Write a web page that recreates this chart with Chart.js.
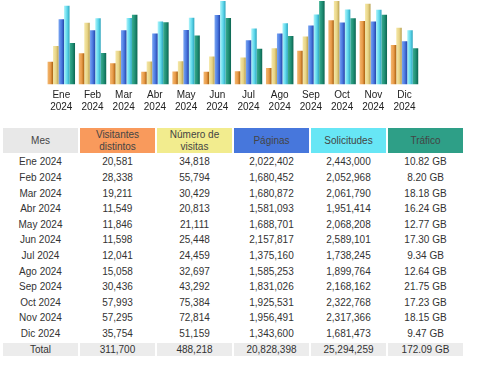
<!DOCTYPE html>
<html>
<head>
<meta charset="utf-8">
<script src="https://cdn.jsdelivr.net/npm/chart.js@4.4.1/dist/chart.umd.min.js"></script>
<style>
  html, body { margin:0; padding:0; background:#fff; width:500px; height:367px; overflow:hidden; }
  body { position:relative; font-family:"Liberation Sans", Arial, sans-serif; }
  #wrap { position:absolute; left:0; top:0; width:500px; height:118px; }
  table { position:absolute; left:1px; top:126px; border-collapse:separate; border-spacing:2px; font-size:10px; color:#333; }
  th, td { width:75px; padding:0; text-align:center; font-weight:normal; }
  th { height:25.4px; line-height:11.6px; color:#444; }
  td { height:13.6px; line-height:13.6px; }
  tr.total td { background:#ececec; }
</style>
</head>
<body>
<div id="wrap"><canvas id="c"></canvas></div>
<table id="t"></table>
<script>
const months = ["Ene","Feb","Mar","Abr","May","Jun","Jul","Ago","Sep","Oct","Nov","Dic"];
const year = "2024";
const visitors = [20581,28338,19211,11549,11846,11598,12041,15058,30436,57993,57295,35754];
const visits = [34818,55794,30429,20813,21111,25448,24459,32697,43292,75384,72814,51159];
const pages = [2022402,1680452,1680872,1581093,1688701,2157817,1375160,1585253,1831026,1925531,1956491,1343600];
const hits = [2443000,2052968,2061790,1951414,2068208,2589101,1738245,1899764,2168162,2322768,2317366,1681473];
const bandwidthGB = [10.82,8.20,18.18,16.24,12.77,17.30,9.34,12.64,21.75,17.23,18.15,9.47];
const headers = ["Mes","Visitantes<br>distintos","Número de<br>visitas","Páginas","Solicitudes","Tráfico"];
const totals = ["Total","311,700","488,218","20,828,398","25,294,259","172.09 GB"];

const headerBg = ["#e8e8e8","#f99a5c","#f2ec8e","#4777dc","#67e6f5","#2e9f87"];
const gradStops = [
  ["#f3b870","#e89a48","#a8600e"],
  ["#f5e8a8","#e8d486","#b8a050"],
  ["#7aa6f2","#4a78e0","#2444a8"],
  ["#aef4fa","#5ed8ec","#2ea4bc"],
  ["#3aae90","#1f8e74","#0c6450"]
];

const fmt = n => n.toLocaleString("en-US");

// table
const t = document.getElementById("t");
let html = "<tr>" + headers.map((h,i)=>`<th style="background:${headerBg[i]}">${h}</th>`).join("") + "</tr>";
months.forEach((m,i)=>{
  html += `<tr><td>${m} ${year}</td><td>${fmt(visitors[i])}</td><td>${fmt(visits[i])}</td><td>${fmt(pages[i])}</td><td>${fmt(hits[i])}</td><td>${bandwidthGB[i].toFixed(2)} GB</td></tr>`;
});
html += `<tr class="total">` + totals.map(v=>`<td>${v}</td>`).join("") + "</tr>";
t.innerHTML = html;

const gradientPlugin = {
  id: "grad",
  beforeDatasetsDraw(chart) {
    const ctx = chart.ctx;
    chart.data.datasets.forEach((ds, di) => {
      const meta = chart.getDatasetMeta(di);
      const stops = gradStops[di];
      meta.data.forEach(el => {
        const p = el.getProps(["x","width"], true);
        const g = ctx.createLinearGradient(p.x - p.width/2, 0, p.x + p.width/2, 0);
        g.addColorStop(0, stops[0]);
        g.addColorStop(0.55, stops[1]);
        g.addColorStop(1, stops[2]);
        el.options = Object.assign({}, el.options, { backgroundColor: g });
      });
    });
  }
};

const visMax = Math.max(...visitors, ...visits);
const hitMax = Math.max(...pages, ...hits);
const bwMax = Math.max(...bandwidthGB);

new Chart(document.getElementById("c"), {
  type: "bar",
  data: {
    labels: months.map(m => [m, year]),
    datasets: [
      { data: visitors, yAxisID: "yv", backgroundColor: gradStops[0][1] },
      { data: visits, yAxisID: "yv", backgroundColor: gradStops[1][1] },
      { data: pages, yAxisID: "yh", backgroundColor: gradStops[2][1] },
      { data: hits, yAxisID: "yh", backgroundColor: gradStops[3][1] },
      { data: bandwidthGB, yAxisID: "yb", backgroundColor: gradStops[4][1] }
    ]
  },
  options: {
    responsive: true,
    maintainAspectRatio: false,
    animation: false,
    layout: { padding: { left: 45.7, right: 79.9, top: 1, bottom: 0 } },
    datasets: { bar: { barPercentage: 1, categoryPercentage: 0.88, borderWidth: 0 } },
    plugins: { legend: { display: false }, tooltip: { enabled: false } },
    scales: {
      x: {
        grid: { display: false, drawTicks: false },
        border: { display: false },
        ticks: { color: "#222", padding: 4, maxRotation: 0, autoSkip: false,
                 font: { family: "Liberation Sans, Arial, sans-serif", size: 10, lineHeight: 1.27 } }
      },
      yv: { display: false, min: 0, max: visMax },
      yh: { display: false, min: 0, max: hitMax },
      yb: { display: false, min: 0, max: bwMax }
    }
  },
  plugins: [gradientPlugin]
});
</script>
</body>
</html>
